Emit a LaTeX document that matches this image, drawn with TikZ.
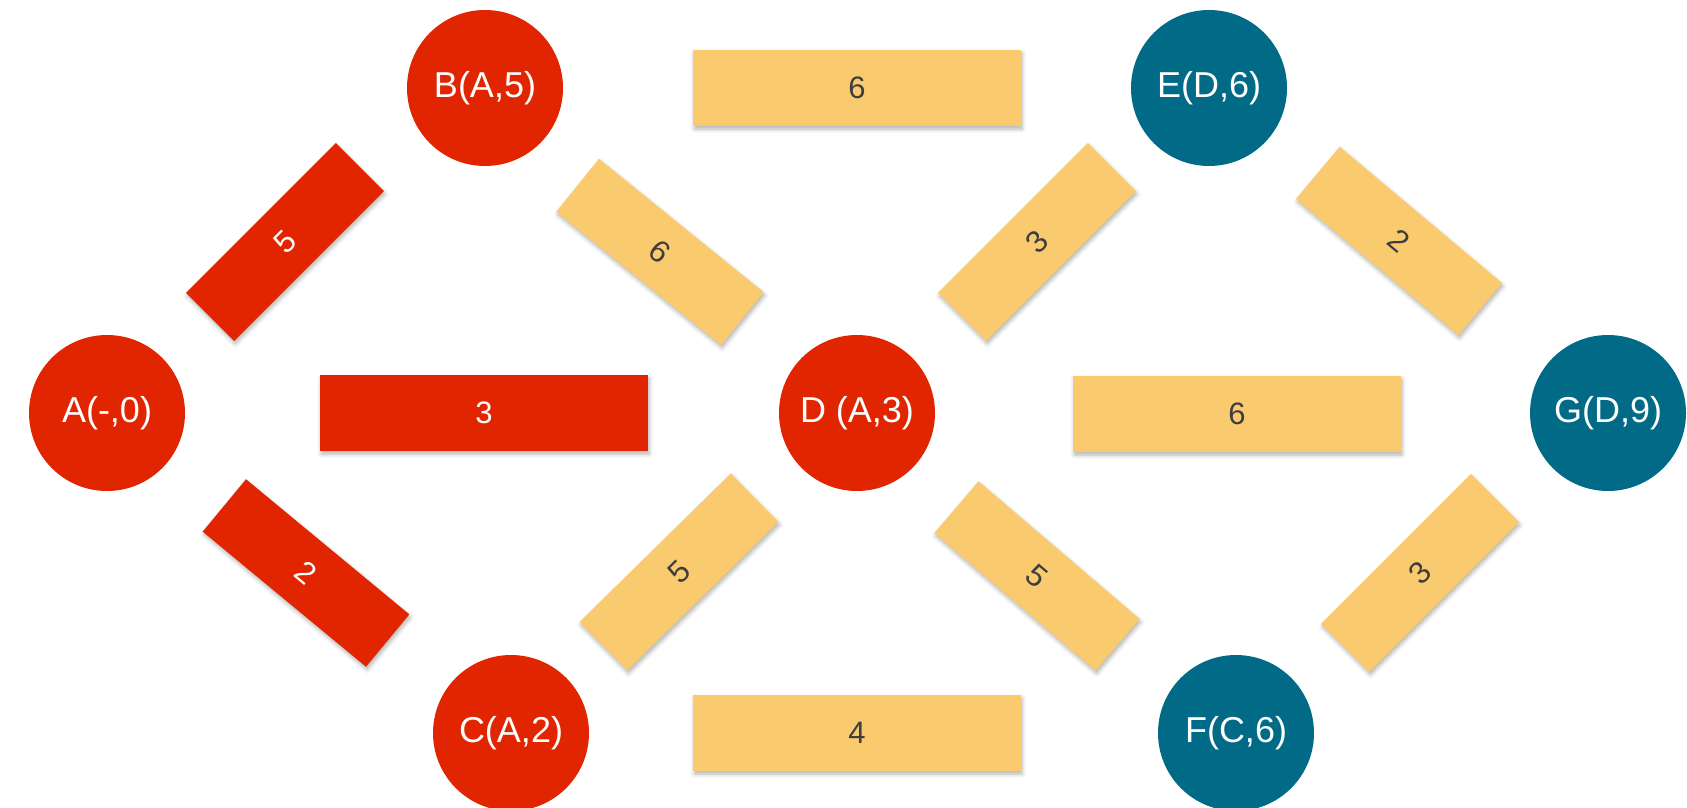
\documentclass[tikz,border=0pt]{standalone}
\usepackage{fontspec}
\setmainfont{Liberation Sans}
\usepackage{tikz}
\usetikzlibrary{shapes,shadows.blur}

\definecolor{pathred}{RGB}{225,37,0}
\definecolor{edgeyellow}{RGB}{249,202,110}
\definecolor{nodeteal}{RGB}{0,106,135}
\definecolor{digitgray}{RGB}{62,62,62}

\begin{document}
\begin{tikzpicture}[x=0.5pt,y=-0.5pt,
every node/.style={inner sep=0pt,outer sep=0pt},
vertex/.style={circle,minimum size=78pt,text=white,
  font=\fontsize{18}{20}\selectfont},
onpath/.style={vertex,fill=pathred},
offpath/.style={vertex,fill=nodeteal},
hbox/.style={rectangle,minimum width=164pt,minimum height=38pt,
  font=\fontsize{15.5}{18}\selectfont,
  blur shadow={shadow xshift=0.6pt,shadow yshift=-1.5pt,
    shadow blur radius=2pt,shadow opacity=30}},
dbox/.style={hbox,minimum width=106pt,minimum height=34pt},
used/.style={fill=pathred,text=white},
unused/.style={fill=edgeyellow,text=digitgray}]
\useasboundingbox (0,0) rectangle (1687,808);

% vertices
\node[onpath]  (A) at (107,413)  {A(-,0)};
\node[onpath]  (B) at (485,88)   {B(A,5)};
\node[onpath]  (C) at (511,733)  {C(A,2)};
\node[onpath]  (D) at (857,413)  {D (A,3)};
\node[offpath] (E) at (1209,88)  {E(D,6)};
\node[offpath] (F) at (1236,733) {F(C,6)};
\node[offpath] (G) at (1608,413) {G(D,9)};

% edge weights
\node[hbox,used]   (ad) at (484,413)  {3};
\node[hbox,unused] (be) at (857,88)   {6};
\node[hbox,unused] (dg) at (1237,414) {6};
\node[hbox,unused] (cf) at (857,733)  {4};

\node[dbox,used,rotate=45]     (ab) at (285,242)  {5};
\node[dbox,used,rotate=-39.6]  (ac) at (306,573)  {2};
\node[dbox,unused,rotate=-39]  (bd) at (660,252)  {6};
\node[dbox,unused,rotate=44.5] (cd) at (679,572)  {5};
\node[dbox,unused,rotate=45]   (de) at (1037,242) {3};
\node[dbox,unused,rotate=-40.5] (df) at (1037,576) {5};
\node[dbox,unused,rotate=-40]  (eg) at (1399,241) {2};
\node[dbox,unused,rotate=45]   (fg) at (1420,573) {3};
\end{tikzpicture}
\end{document}
